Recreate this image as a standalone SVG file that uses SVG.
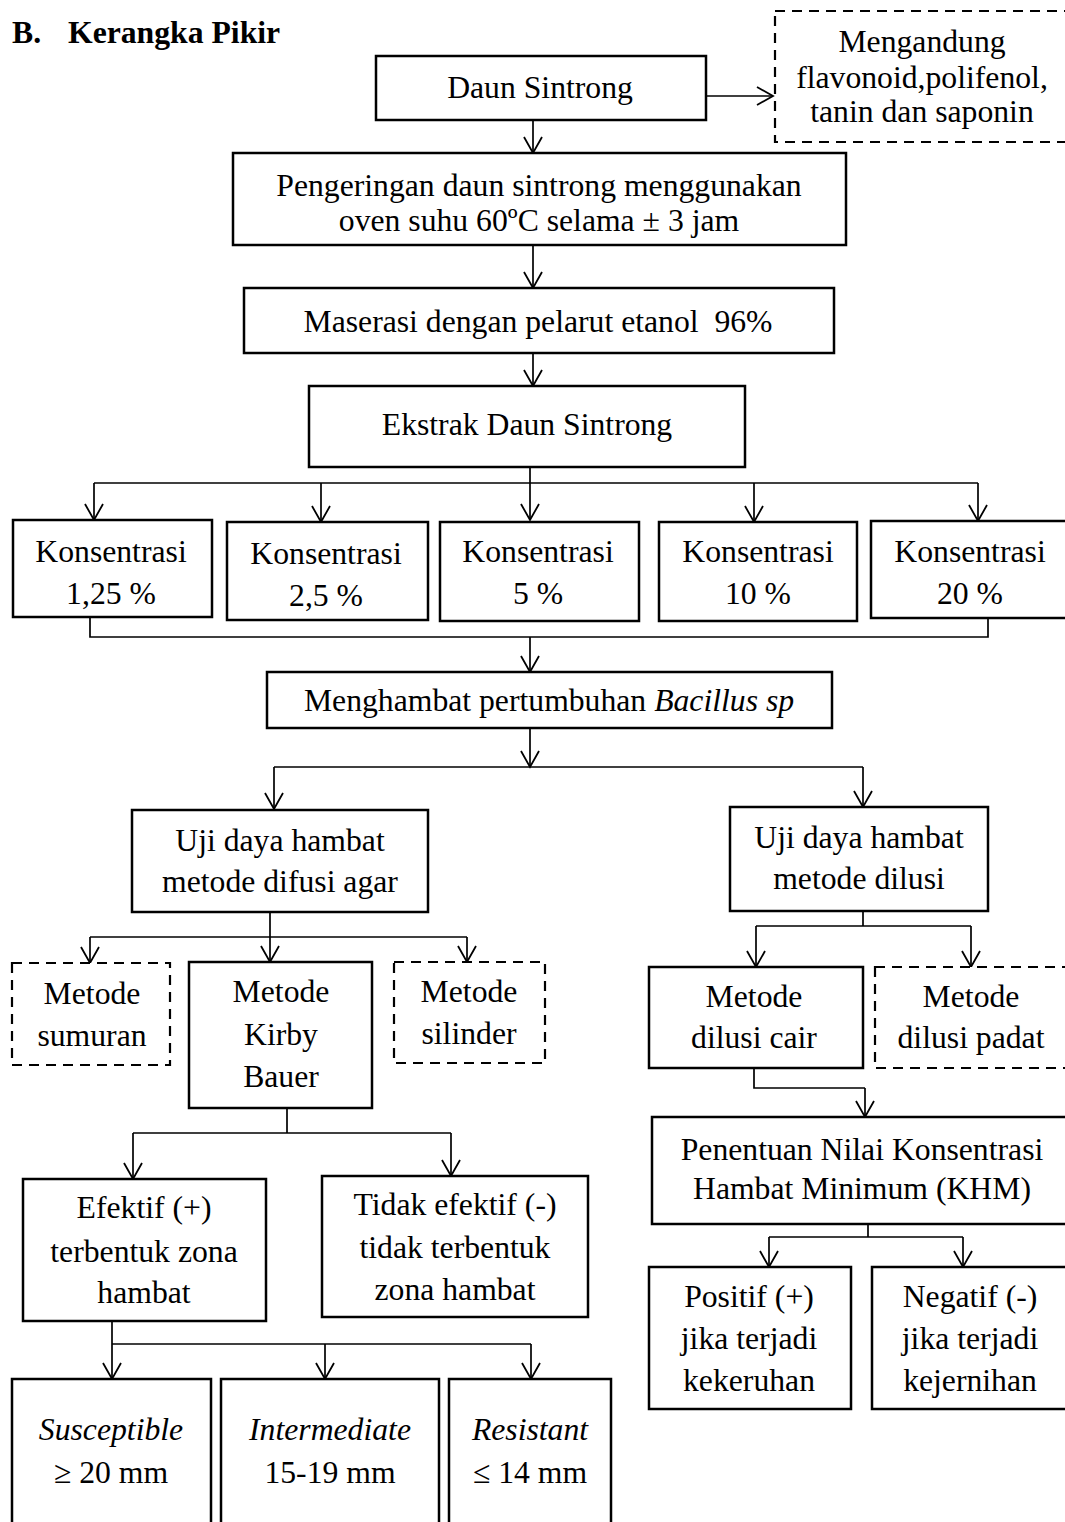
<svg xmlns="http://www.w3.org/2000/svg" width="1065" height="1522" viewBox="0 0 1065 1522">
<style>
text{font-family:"Liberation Serif","Times New Roman",serif;font-size:31.7px;fill:#000;text-anchor:middle}
.title{font-weight:bold;text-anchor:start}
.it{font-style:italic}
.box{fill:#fff;stroke:#000;stroke-width:2.5}
.dash{fill:#fff;stroke:#000;stroke-width:2.2;stroke-dasharray:10 7}
.con{fill:none;stroke:#000;stroke-width:1.7}
.arr{fill:none;stroke:#000;stroke-width:1.7;marker-end:url(#ah)}
</style>
<defs>
<marker id="ah" markerUnits="userSpaceOnUse" viewBox="-18 -11 20 22" refX="0" refY="0" markerWidth="20" markerHeight="22" orient="auto">
<path d="M-16,-9 L0,0 L-16,9" fill="none" stroke="#000" stroke-width="1.8"/>
</marker>
</defs>
<rect width="1065" height="1522" fill="#fff"/>
<g id="title"><text class="title" x="12" y="43">B.</text><text class="title" x="68" y="43">Kerangka Pikir</text></g>

<g id="connectors">
<path class="arr" d="M706,96 H773"/>
<path class="arr" d="M533,120 V153"/>
<path class="arr" d="M533,245 V288"/>
<path class="arr" d="M533,353 V386"/>
<path class="arr" d="M530,467 V520"/>
<path class="con" d="M94,483 H978"/>
<path class="arr" d="M94,483 V520"/>
<path class="arr" d="M321,483 V522"/>
<path class="arr" d="M754,483 V522"/>
<path class="arr" d="M978,483 V521"/>
<path class="con" d="M90,617 V637 H988 V618"/>
<path class="arr" d="M530,637 V672"/>
<path class="arr" d="M530,728 V767"/>
<path class="con" d="M274,767 H863"/>
<path class="arr" d="M274,767 V809"/>
<path class="arr" d="M863,767 V807"/>
<path class="arr" d="M270,912 V962"/>
<path class="con" d="M90,937 H467"/>
<path class="arr" d="M90,937 V963"/>
<path class="arr" d="M467,937 V962"/>
<path class="con" d="M863,911 V926 M756,926 H971"/>
<path class="arr" d="M756,926 V967"/>
<path class="arr" d="M971,926 V967"/>
<path class="con" d="M754,1068 V1088 H865"/>
<path class="arr" d="M865,1088 V1117"/>
<path class="con" d="M868,1224 V1237 M769,1237 H963"/>
<path class="arr" d="M769,1237 V1267"/>
<path class="arr" d="M963,1237 V1267"/>
<path class="con" d="M287,1108 V1133 M133,1133 H451"/>
<path class="arr" d="M133,1133 V1179"/>
<path class="arr" d="M451,1133 V1176"/>
<path class="arr" d="M112,1321 V1379"/>
<path class="con" d="M112,1344 H531"/>
<path class="arr" d="M325,1344 V1379"/>
<path class="arr" d="M531,1344 V1379"/>
</g>

<g id="n-daun"><rect class="box" x="376" y="56" width="330" height="64"/><text x="540" y="98">Daun Sintrong</text></g>
<g id="n-kandungan"><rect class="dash" x="775" y="11" width="310" height="131"/>
<text x="922" y="52">Mengandung</text><text x="922" y="88">flavonoid,polifenol,</text><text x="922" y="122">tanin dan saponin</text></g>
<g id="n-pengeringan"><rect class="box" x="233" y="153" width="613" height="92"/>
<text x="539" y="196">Pengeringan daun sintrong menggunakan</text><text x="539" y="231">oven suhu 60ºC selama ± 3 jam</text></g>
<g id="n-maserasi"><rect class="box" x="244" y="288" width="590" height="65"/>
<text x="538" y="332" style="white-space:pre">Maserasi dengan pelarut etanol  96%</text></g>
<g id="n-ekstrak"><rect class="box" x="309" y="386" width="436" height="81"/><text x="527" y="435">Ekstrak Daun Sintrong</text></g>

<g id="n-k1"><rect class="box" x="13" y="520" width="199" height="97"/><text x="111" y="562">Konsentrasi</text><text x="111" y="604">1,25 %</text></g>
<g id="n-k2"><rect class="box" x="227" y="522" width="201" height="98"/><text x="326" y="564">Konsentrasi</text><text x="326" y="606">2,5 %</text></g>
<g id="n-k3"><rect class="box" x="440" y="522" width="199" height="99"/><text x="538" y="562">Konsentrasi</text><text x="538" y="604">5 %</text></g>
<g id="n-k4"><rect class="box" x="659" y="522" width="198" height="99"/><text x="758" y="562">Konsentrasi</text><text x="758" y="604">10 %</text></g>
<g id="n-k5"><rect class="box" x="871" y="521" width="210" height="97"/><text x="970" y="562">Konsentrasi</text><text x="970" y="604">20 %</text></g>

<g id="n-menghambat"><rect class="box" x="267" y="672" width="565" height="56"/>
<text x="549" y="711">Menghambat pertumbuhan <tspan class="it">Bacillus sp</tspan></text></g>

<g id="n-difusi"><rect class="box" x="132" y="810" width="296" height="102"/><text x="280" y="851">Uji daya hambat</text><text x="280" y="892">metode difusi agar</text></g>
<g id="n-dilusi"><rect class="box" x="730" y="807" width="258" height="104"/><text x="859" y="848">Uji daya hambat</text><text x="859" y="889">metode dilusi</text></g>

<g id="n-sumuran"><rect class="dash" x="12" y="963" width="158" height="102"/><text x="92" y="1004">Metode</text><text x="92" y="1046">sumuran</text></g>
<g id="n-kirby"><rect class="box" x="189" y="962" width="183" height="146"/><text x="281" y="1002">Metode</text><text x="281" y="1045">Kirby</text><text x="281" y="1087">Bauer</text></g>
<g id="n-silinder"><rect class="dash" x="394" y="962" width="151" height="101"/><text x="469" y="1002">Metode</text><text x="469" y="1044">silinder</text></g>

<g id="n-cair"><rect class="box" x="649" y="967" width="214" height="101"/><text x="754" y="1007">Metode</text><text x="754" y="1048">dilusi cair</text></g>
<g id="n-padat"><rect class="dash" x="875" y="967" width="210" height="101"/><text x="971" y="1007">Metode</text><text x="971" y="1048">dilusi padat</text></g>

<g id="n-khm"><rect class="box" x="652" y="1117" width="430" height="107"/><text x="862" y="1160">Penentuan Nilai Konsentrasi</text><text x="862" y="1199">Hambat Minimum (KHM)</text></g>

<g id="n-efektif"><rect class="box" x="23" y="1179" width="243" height="142"/><text x="144" y="1218">Efektif (+)</text><text x="144" y="1262">terbentuk zona</text><text x="144" y="1303">hambat</text></g>
<g id="n-tidak"><rect class="box" x="322" y="1176" width="266" height="141"/><text x="455" y="1215">Tidak efektif (-)</text><text x="455" y="1258">tidak terbentuk</text><text x="455" y="1300">zona hambat</text></g>

<g id="n-positif"><rect class="box" x="649" y="1267" width="202" height="142"/><text x="749" y="1307">Positif (+)</text><text x="749" y="1349">jika terjadi</text><text x="749" y="1391">kekeruhan</text></g>
<g id="n-negatif"><rect class="box" x="872" y="1267" width="210" height="142"/><text x="970" y="1307">Negatif (-)</text><text x="970" y="1349">jika terjadi</text><text x="970" y="1391">kejernihan</text></g>

<g id="n-susceptible"><rect class="box" x="12" y="1379" width="199" height="160"/><text class="it" x="111" y="1440">Susceptible</text><text x="111" y="1483">≥ 20 mm</text></g>
<g id="n-intermediate"><rect class="box" x="221" y="1379" width="218" height="160"/><text class="it" x="330" y="1440">Intermediate</text><text x="330" y="1483">15-19 mm</text></g>
<g id="n-resistant"><rect class="box" x="449" y="1379" width="162" height="160"/><text class="it" x="530" y="1440">Resistant</text><text x="530" y="1483">≤ 14 mm</text></g>
</svg>
